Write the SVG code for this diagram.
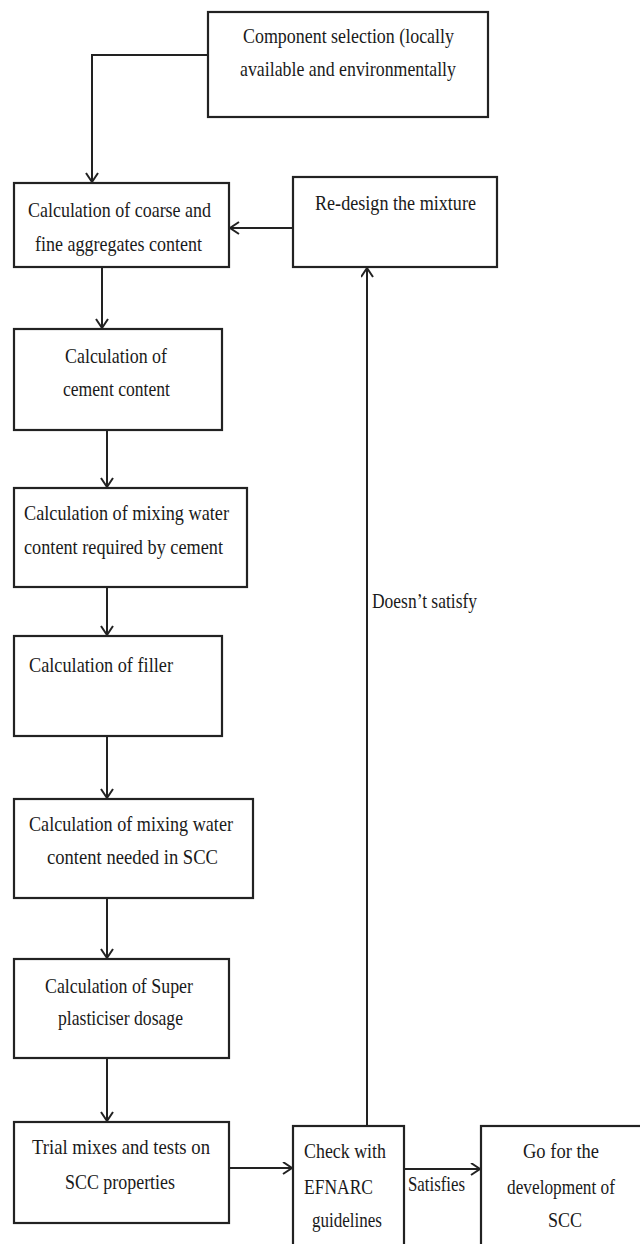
<svg xmlns="http://www.w3.org/2000/svg" width="640" height="1244" viewBox="0 0 640 1244">
<style>
.box{fill:#fff;stroke:#222;stroke-width:2.2}
.t{font-family:"Liberation Serif","Times New Roman",serif;font-size:22px;fill:#1a1a1a}
.c{fill:none;stroke:#222;stroke-width:2}
</style>
<defs>
<marker id="ah" markerUnits="userSpaceOnUse" markerWidth="14" markerHeight="14" refX="10" refY="6.5" orient="auto">
<path d="M1,0.5 L10,6.5 L1,12.5" fill="none" stroke="#222" stroke-width="2"/>
</marker>
</defs>
<rect width="640" height="1244" fill="#fff"/>
<g id="connectors">
<polyline class="c" points="208,55 92,55 92,182" marker-end="url(#ah)"/>
<line class="c" x1="293" y1="228" x2="230" y2="228" marker-end="url(#ah)"/>
<line class="c" x1="102" y1="267" x2="102" y2="328" marker-end="url(#ah)"/>
<line class="c" x1="107" y1="430" x2="107" y2="487" marker-end="url(#ah)"/>
<line class="c" x1="107" y1="587" x2="107" y2="635" marker-end="url(#ah)"/>
<line class="c" x1="107" y1="736" x2="107" y2="798" marker-end="url(#ah)"/>
<line class="c" x1="107" y1="898" x2="107" y2="958" marker-end="url(#ah)"/>
<line class="c" x1="107" y1="1058" x2="107" y2="1121" marker-end="url(#ah)"/>
<line class="c" x1="229" y1="1168" x2="292" y2="1168" marker-end="url(#ah)"/>
<line class="c" x1="404" y1="1169" x2="480" y2="1169" marker-end="url(#ah)"/>
<line class="c" x1="367" y1="1126" x2="367" y2="268" marker-end="url(#ah)"/>
<text class="t" x="372" y="608" textLength="105" lengthAdjust="spacingAndGlyphs">Doesn’t satisfy</text>
<text class="t" x="408" y="1191" textLength="57" lengthAdjust="spacingAndGlyphs">Satisfies</text>
</g>
<g id="n1">
<rect class="box" x="208" y="12" width="280" height="105"/>
<text class="t" x="243" y="43" textLength="211" lengthAdjust="spacingAndGlyphs">Component selection (locally</text>
<text class="t" x="240" y="76" textLength="216" lengthAdjust="spacingAndGlyphs">available and environmentally</text>
</g>
<g id="n2">
<rect class="box" x="14" y="183" width="215" height="84"/>
<text class="t" x="28" y="217" textLength="183" lengthAdjust="spacingAndGlyphs">Calculation of coarse and</text>
<text class="t" x="35" y="251" textLength="167" lengthAdjust="spacingAndGlyphs">fine aggregates content</text>
</g>
<g id="redesign">
<rect class="box" x="293" y="177" width="204" height="90"/>
<text class="t" x="315" y="210" textLength="161" lengthAdjust="spacingAndGlyphs">Re-design the mixture</text>
</g>
<g id="n3">
<rect class="box" x="14" y="329" width="208" height="101"/>
<text class="t" x="65" y="363" textLength="102" lengthAdjust="spacingAndGlyphs">Calculation of</text>
<text class="t" x="63" y="396" textLength="107" lengthAdjust="spacingAndGlyphs">cement content</text>
</g>
<g id="n4">
<rect class="box" x="14" y="488" width="233" height="99"/>
<text class="t" x="24" y="520" textLength="205" lengthAdjust="spacingAndGlyphs">Calculation of mixing water</text>
<text class="t" x="24" y="554" textLength="199" lengthAdjust="spacingAndGlyphs">content required by cement</text>
</g>
<g id="n5">
<rect class="box" x="14" y="636" width="208" height="100"/>
<text class="t" x="29" y="672" textLength="144" lengthAdjust="spacingAndGlyphs">Calculation of filler</text>
</g>
<g id="n6">
<rect class="box" x="14" y="799" width="239" height="99"/>
<text class="t" x="29" y="831" textLength="204" lengthAdjust="spacingAndGlyphs">Calculation of mixing water</text>
<text class="t" x="47" y="864" textLength="171" lengthAdjust="spacingAndGlyphs">content needed in SCC</text>
</g>
<g id="n7">
<rect class="box" x="14" y="959" width="215" height="99"/>
<text class="t" x="45" y="993" textLength="148" lengthAdjust="spacingAndGlyphs">Calculation of Super</text>
<text class="t" x="58" y="1025" textLength="125" lengthAdjust="spacingAndGlyphs">plasticiser dosage</text>
</g>
<g id="n8">
<rect class="box" x="14" y="1122" width="215" height="101"/>
<text class="t" x="32" y="1154" textLength="178" lengthAdjust="spacingAndGlyphs">Trial mixes and tests on</text>
<text class="t" x="65" y="1189" textLength="110" lengthAdjust="spacingAndGlyphs">SCC properties</text>
</g>
<g id="n9">
<rect class="box" x="293" y="1126" width="111" height="140"/>
<text class="t" x="304" y="1158" textLength="82" lengthAdjust="spacingAndGlyphs">Check with</text>
<text class="t" x="304" y="1194" textLength="69" lengthAdjust="spacingAndGlyphs">EFNARC</text>
<text class="t" x="312" y="1227" textLength="70" lengthAdjust="spacingAndGlyphs">guidelines</text>
</g>
<g id="n10">
<rect class="box" x="481" y="1126" width="200" height="140"/>
<text class="t" x="523" y="1158" textLength="76" lengthAdjust="spacingAndGlyphs">Go for the</text>
<text class="t" x="507" y="1194" textLength="108" lengthAdjust="spacingAndGlyphs">development of</text>
<text class="t" x="548" y="1227" textLength="34" lengthAdjust="spacingAndGlyphs">SCC</text>
</g>
</svg>
